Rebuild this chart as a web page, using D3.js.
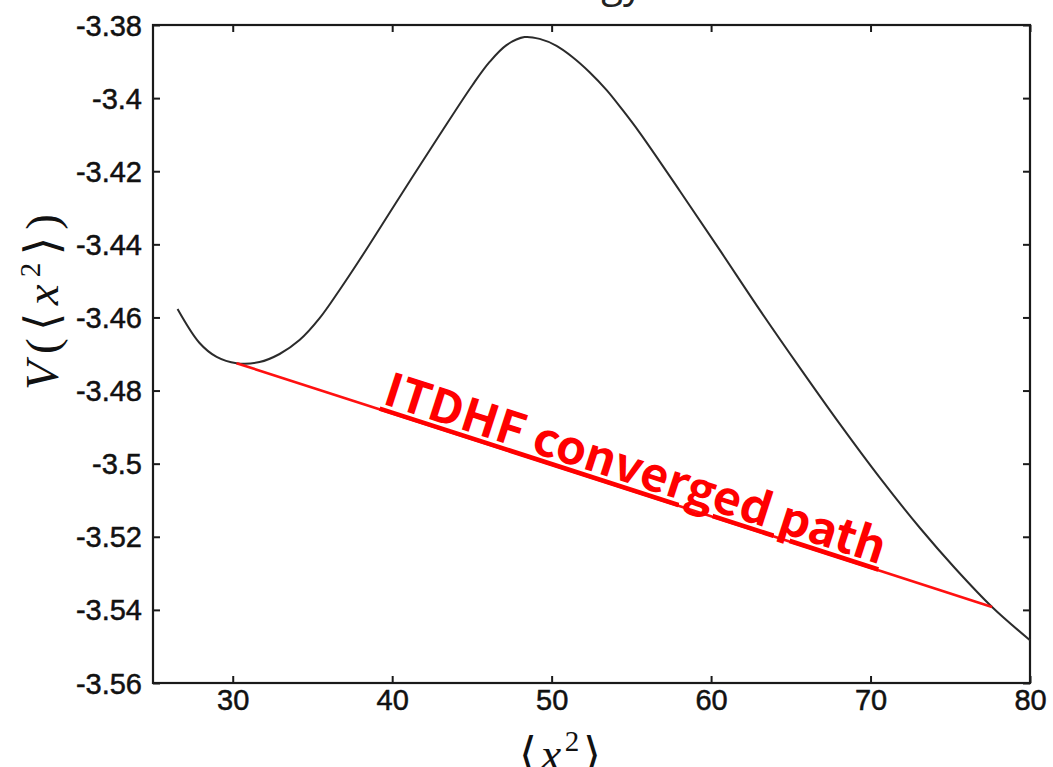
<!DOCTYPE html>
<html>
<head>
<meta charset="utf-8">
<script src="https://cdn.jsdelivr.net/npm/d3@7"></script>
<style>
    body { margin: 0; background: #fff; }
    .tick text { font-family: "Liberation Sans", Arial, sans-serif; font-size: 29px; fill: #111; stroke: #111; stroke-width: 0.5; }
    .tick line { stroke: #1a1a1a; stroke-width: 2; }
    .domain { display: none; }
    .potential { fill: none; stroke: #2b2b2b; stroke-width: 2; }
    .itdhf { fill: none; stroke: #ff1010; stroke-width: 2.6; }
</style>
</head>
<body>
<svg id="chart" width="1053" height="767"></svg>
<script>
    // curve V(<x^2>)
    let x2 = [26.54, 27.92, 28.99, 30.24, 31.68, 32.94, 34.19, 35.45, 36.70, 37.95, 40.46, 42.97, 45.04, 46.11,
        47.17, 48.30, 49.25, 50.31, 51.32, 52.38, 53.45, 54.46, 55.53, 58.04, 60.55, 63.06, 65.57, 68.08,
        70.59, 73.10, 75.30, 77.62, 80.0];
    let potential = [-3.4577, -3.4670, -3.4708, -3.4725, -3.4722, -3.4700, -3.4662, -3.4602, -3.4525, -3.4443,
        -3.4271, -3.4101, -3.3964, -3.3901, -3.3855, -3.3833, -3.3838, -3.3857, -3.3888, -3.3929, -3.3978,
        -3.4033, -3.4095, -3.4254, -3.4416, -3.4580, -3.4738, -3.4892, -3.5039, -3.5176, -3.5286, -3.5392,
        -3.5483];

    // straight ITDHF path, end points
    let pathX = [30.24, 77.62];
    let pathV = [-3.4725, -3.5392];

    let xTicks = [30, 40, 50, 60, 70, 80];
    let yTicks = [-3.38, -3.4, -3.42, -3.44, -3.46, -3.48, -3.5, -3.52, -3.54, -3.56];

    let margin = {top: 25, right: 23, bottom: 84, left: 153},
        width = 1053 - margin.left - margin.right,
        height = 767 - margin.top - margin.bottom;

    let svg = d3.select("#chart");
    let g = svg.append("g").attr("transform", "translate(" + margin.left + "," + margin.top + ")");

    let x = d3.scaleLinear().domain([25, 80]).range([0, width]);
    let y = d3.scaleLinear().domain([-3.56, -3.38]).range([height, 0]);

    // axes, ticks pointing inward on all four sides
    let xAxis = g.append("g")
        .attr("transform", "translate(0," + height + ")")
        .call(d3.axisBottom(x).tickValues(xTicks).tickSizeInner(-7).tickSizeOuter(0).tickPadding(6).tickFormat(d => String(d)));
    g.append("g")
        .call(d3.axisTop(x).tickValues(xTicks).tickSizeInner(-7).tickSizeOuter(0).tickFormat(""));
    let yAxis = g.append("g")
        .call(d3.axisLeft(y).tickValues(yTicks).tickSizeInner(-7).tickSizeOuter(0).tickPadding(11).tickFormat(d => String(d)));
    g.append("g")
        .attr("transform", "translate(" + width + ",0)")
        .call(d3.axisRight(y).tickValues(yTicks).tickSizeInner(-7).tickSizeOuter(0).tickFormat(""));

    yAxis.selectAll(".tick text").attr("dy", null).attr("dominant-baseline", "central");
    xAxis.selectAll(".tick text").attr("dy", "0.72em");

    g.append("rect")
        .attr("width", width)
        .attr("height", height)
        .attr("fill", "none")
        .attr("stroke", "#1a1a1a")
        .attr("stroke-width", 2.2);

    let pts = x2.map((d, i) => [d, potential[i]]);
    let line = d3.line()
        .x(d => x(d[0]))
        .y(d => y(d[1]))
        .curve(d3.curveCatmullRom.alpha(0.5));

    g.append("path")
        .datum(pts)
        .attr("class", "potential")
        .attr("d", line);

    g.append("path")
        .datum(pathX.map((d, i) => [d, pathV[i]]))
        .attr("class", "itdhf")
        .attr("d", d3.line().x(d => x(d[0])).y(d => y(d[1])));

    // label along the red path
    let angle = Math.atan2(y(pathV[1]) - y(pathV[0]), x(pathX[1]) - x(pathX[0])) * 180 / Math.PI;
    let t0 = 39.2;
    let v0 = pathV[0] + (pathV[1] - pathV[0]) * (t0 - pathX[0]) / (pathX[1] - pathX[0]);
    g.append("text")
        .attr("transform", "translate(" + x(t0) + "," + y(v0) + ") rotate(" + angle + ") translate(0,-6)")
        .attr("font-family", "'Noto Sans CJK JP', 'Noto Sans', sans-serif")
        .attr("font-weight", "bold")
        .attr("font-size", 46)
        .attr("fill", "#ff0000")
        .attr("text-decoration", "underline")
        .style("text-decoration-thickness", "2px")
        .style("text-underline-offset", "2px")
        .attr("textLength", 524)
        .attr("lengthAdjust", "spacingAndGlyphs")
        .text("ITDHF converged path");

    // title, mostly outside the picture
    svg.append("text")
        .attr("x", 643)
        .attr("y", -3)
        .attr("text-anchor", "end")
        .attr("font-family", "'Open Sans', sans-serif")
        .attr("font-size", 40)
        .attr("fill", "#222")
        .text("Potential energy");

    // axis titles
    let yl = svg.append("text")
        .attr("transform", "translate(58,302) rotate(-90)")
        .attr("text-anchor", "middle")
        .attr("font-family", "'Liberation Serif', 'DejaVu Serif', serif")
        .attr("font-size", 47)
        .attr("fill", "#111")
        .attr("textLength", 176)
        .attr("lengthAdjust", "spacing");
    yl.append("tspan").attr("font-style", "italic").text("V");
    yl.append("tspan").text("(⟨");
    yl.append("tspan").attr("font-style", "italic").text("x");
    yl.append("tspan").attr("font-size", 29).attr("dy", -18).text("2");
    yl.append("tspan").attr("dy", 18).text("⟩)");

    let xl = svg.append("text")
        .attr("x", 560)
        .attr("y", 770)
        .attr("text-anchor", "middle")
        .attr("font-family", "'Liberation Serif', 'DejaVu Serif', serif")
        .attr("font-size", 46)
        .attr("fill", "#111")
        .attr("textLength", 82)
        .attr("lengthAdjust", "spacing");
    xl.append("tspan").text("⟨");
    xl.append("tspan").attr("font-style", "italic").text("x");
    xl.append("tspan").attr("font-size", 29).attr("dy", -19).text("2");
    xl.append("tspan").attr("dy", 19).text("⟩");
</script>
</body>
</html>
